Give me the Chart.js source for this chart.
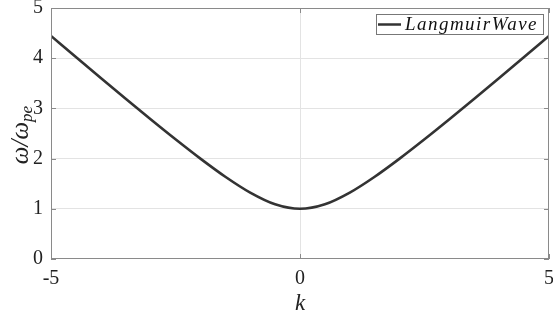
<!DOCTYPE html>
<html>
<head>
<meta charset="utf-8">
<script src="https://cdn.jsdelivr.net/npm/chart.js@4"></script>
<style>
  html, body { margin: 0; padding: 0; background: #fff; }
  #wrap { width: 553px; height: 322px; }
</style>
</head>
<body>
<div id="wrap"><canvas id="dispersionChart" width="553" height="322"></canvas></div>
<script>
// wave number k and normalised frequency w/wpe
const kValues = [-5, -4.5, -4, -3.5, -3, -2.5, -2, -1.5, -1, -0.5, 0, 0.5, 1, 1.5, 2, 2.5, 3, 3.5, 4, 4.5, 5];
const omegaValues = [4.444, 4.023, 3.606, 3.192, 2.784, 2.385, 2.000, 1.639, 1.323, 1.090, 1.000,
                     1.090, 1.323, 1.639, 2.000, 2.385, 2.784, 3.192, 3.606, 4.023, 4.444];
const seriesLabel = 'LangmuirWave';
const xTicks = [-5, 0, 5];
const yTicks = [0, 1, 2, 3, 4, 5];

const serif = "'Liberation Serif', 'DejaVu Serif', serif";
const axisGray = '#8a8a8a';
const gridGray = '#e3e3e3';

// box around the plot, tick marks, y title with subscript, and the legend
const framePlugin = {
    id: 'frame',
    afterDraw(chart) {
        const c = chart.ctx;
        const a = chart.chartArea;
        const xs = chart.scales.x, ys = chart.scales.y;
        c.save();
        c.strokeStyle = axisGray;
        c.lineWidth = 1;
        c.strokeRect(a.left + 0.5, a.top + 0.5, a.right - a.left - 1, a.bottom - a.top - 1);

        // small inward tick marks
        c.beginPath();
        yTicks.forEach(v => {
            const y = Math.round(ys.getPixelForValue(v)) + 0.5;
            c.moveTo(a.left, y); c.lineTo(a.left + 5, y);
            c.moveTo(a.right, y); c.lineTo(a.right - 5, y);
        });
        xTicks.forEach(v => {
            const x = Math.round(xs.getPixelForValue(v)) + 0.5;
            c.moveTo(x, a.bottom); c.lineTo(x, a.bottom - 5);
            c.moveTo(x, a.top); c.lineTo(x, a.top + 5);
        });
        c.stroke();

        // y axis title: ω/ω_pe
        c.fillStyle = '#222';
        c.translate(20, 135);
        c.rotate(-Math.PI / 2);
        c.textBaseline = 'alphabetic';
        c.font = 'italic 25px ' + serif;
        const main = 'ω/ω';
        const mainW = c.measureText(main).width;
        c.font = 'italic 17px ' + serif;
        const subW = c.measureText('pe').width;
        const startX = -(mainW + subW) / 2;
        c.font = 'italic 25px ' + serif;
        c.fillText(main, startX, 8);
        c.font = 'italic 17px ' + serif;
        c.fillText('pe', startX + mainW, 12);
        c.setTransform(1, 0, 0, 1, 0, 0);

        // legend box in the top right corner
        const boxL = 376, boxT = 14, boxR = 543, boxB = 34;
        c.fillStyle = '#fff';
        c.fillRect(boxL, boxT, boxR - boxL, boxB - boxT);
        c.strokeStyle = '#777';
        c.lineWidth = 1;
        c.strokeRect(boxL + 0.5, boxT + 0.5, boxR - boxL, boxB - boxT);
        c.strokeStyle = '#333';
        c.lineWidth = 2.5;
        c.beginPath();
        c.moveTo(boxL + 2, 24.5); c.lineTo(boxL + 25, 24.5);
        c.stroke();
        c.fillStyle = '#111';
        c.font = 'italic 19px ' + serif;
        c.textBaseline = 'middle';
        // spread the letters out the way math italic sets them
        const textW = c.measureText(seriesLabel).width;
        c.letterSpacing = Math.max(0, (133 - textW) / seriesLabel.length) + 'px';
        c.fillText(seriesLabel, boxL + 29, 25);
        c.restore();
    }
};

const ctx = document.getElementById('dispersionChart').getContext('2d');
const dispersionChart = new Chart(ctx, {
    type: 'line',
    data: {
        datasets: [{
            label: seriesLabel,
            data: kValues.map((k, i) => ({ x: k, y: omegaValues[i] })),
            borderColor: '#333333',
            borderWidth: 2.6,
            pointRadius: 0,
            fill: false,
            tension: 0,
            cubicInterpolationMode: 'monotone'
        }]
    },
    options: {
        responsive: false,
        animation: false,
        devicePixelRatio: 1,
        layout: { padding: { top: 8, right: 4, left: 0, bottom: 0 } },
        plugins: {
            legend: { display: false },
            tooltip: { enabled: false }
        },
        scales: {
            x: {
                type: 'linear',
                min: -5,
                max: 5,
                afterBuildTicks: (scale) => { scale.ticks = xTicks.map(v => ({ value: v })); },
                afterFit: (scale) => {
                    scale.height = 63;
                    scale.paddingLeft = 0;
                    scale.paddingRight = 0;
                },
                grid: {
                    color: (c) => (c.tick && c.tick.value === 0 ? gridGray : 'rgba(0,0,0,0)'),
                    drawTicks: false
                },
                border: { display: false },
                ticks: {
                    color: '#222',
                    font: { family: serif, size: 20 },
                    padding: 8,
                    maxRotation: 0
                },
                title: {
                    display: true,
                    text: 'k',
                    color: '#222',
                    font: { family: serif, size: 23, style: 'italic' },
                    padding: { top: 0, bottom: 4 }
                }
            },
            y: {
                min: 0,
                max: 5,
                afterBuildTicks: (scale) => { scale.ticks = yTicks.map(v => ({ value: v })); },
                afterFit: (scale) => {
                    scale.width = 51;
                    scale.paddingTop = 0;
                    scale.paddingBottom = 0;
                },
                grid: {
                    color: (c) => (c.tick && c.tick.value > 0 && c.tick.value < 5 ? gridGray : 'rgba(0,0,0,0)'),
                    drawTicks: false
                },
                border: { display: false },
                ticks: {
                    color: '#222',
                    font: { family: serif, size: 20 },
                    padding: 8
                }
            }
        }
    },
    plugins: [framePlugin]
});
</script>
</body>
</html>
